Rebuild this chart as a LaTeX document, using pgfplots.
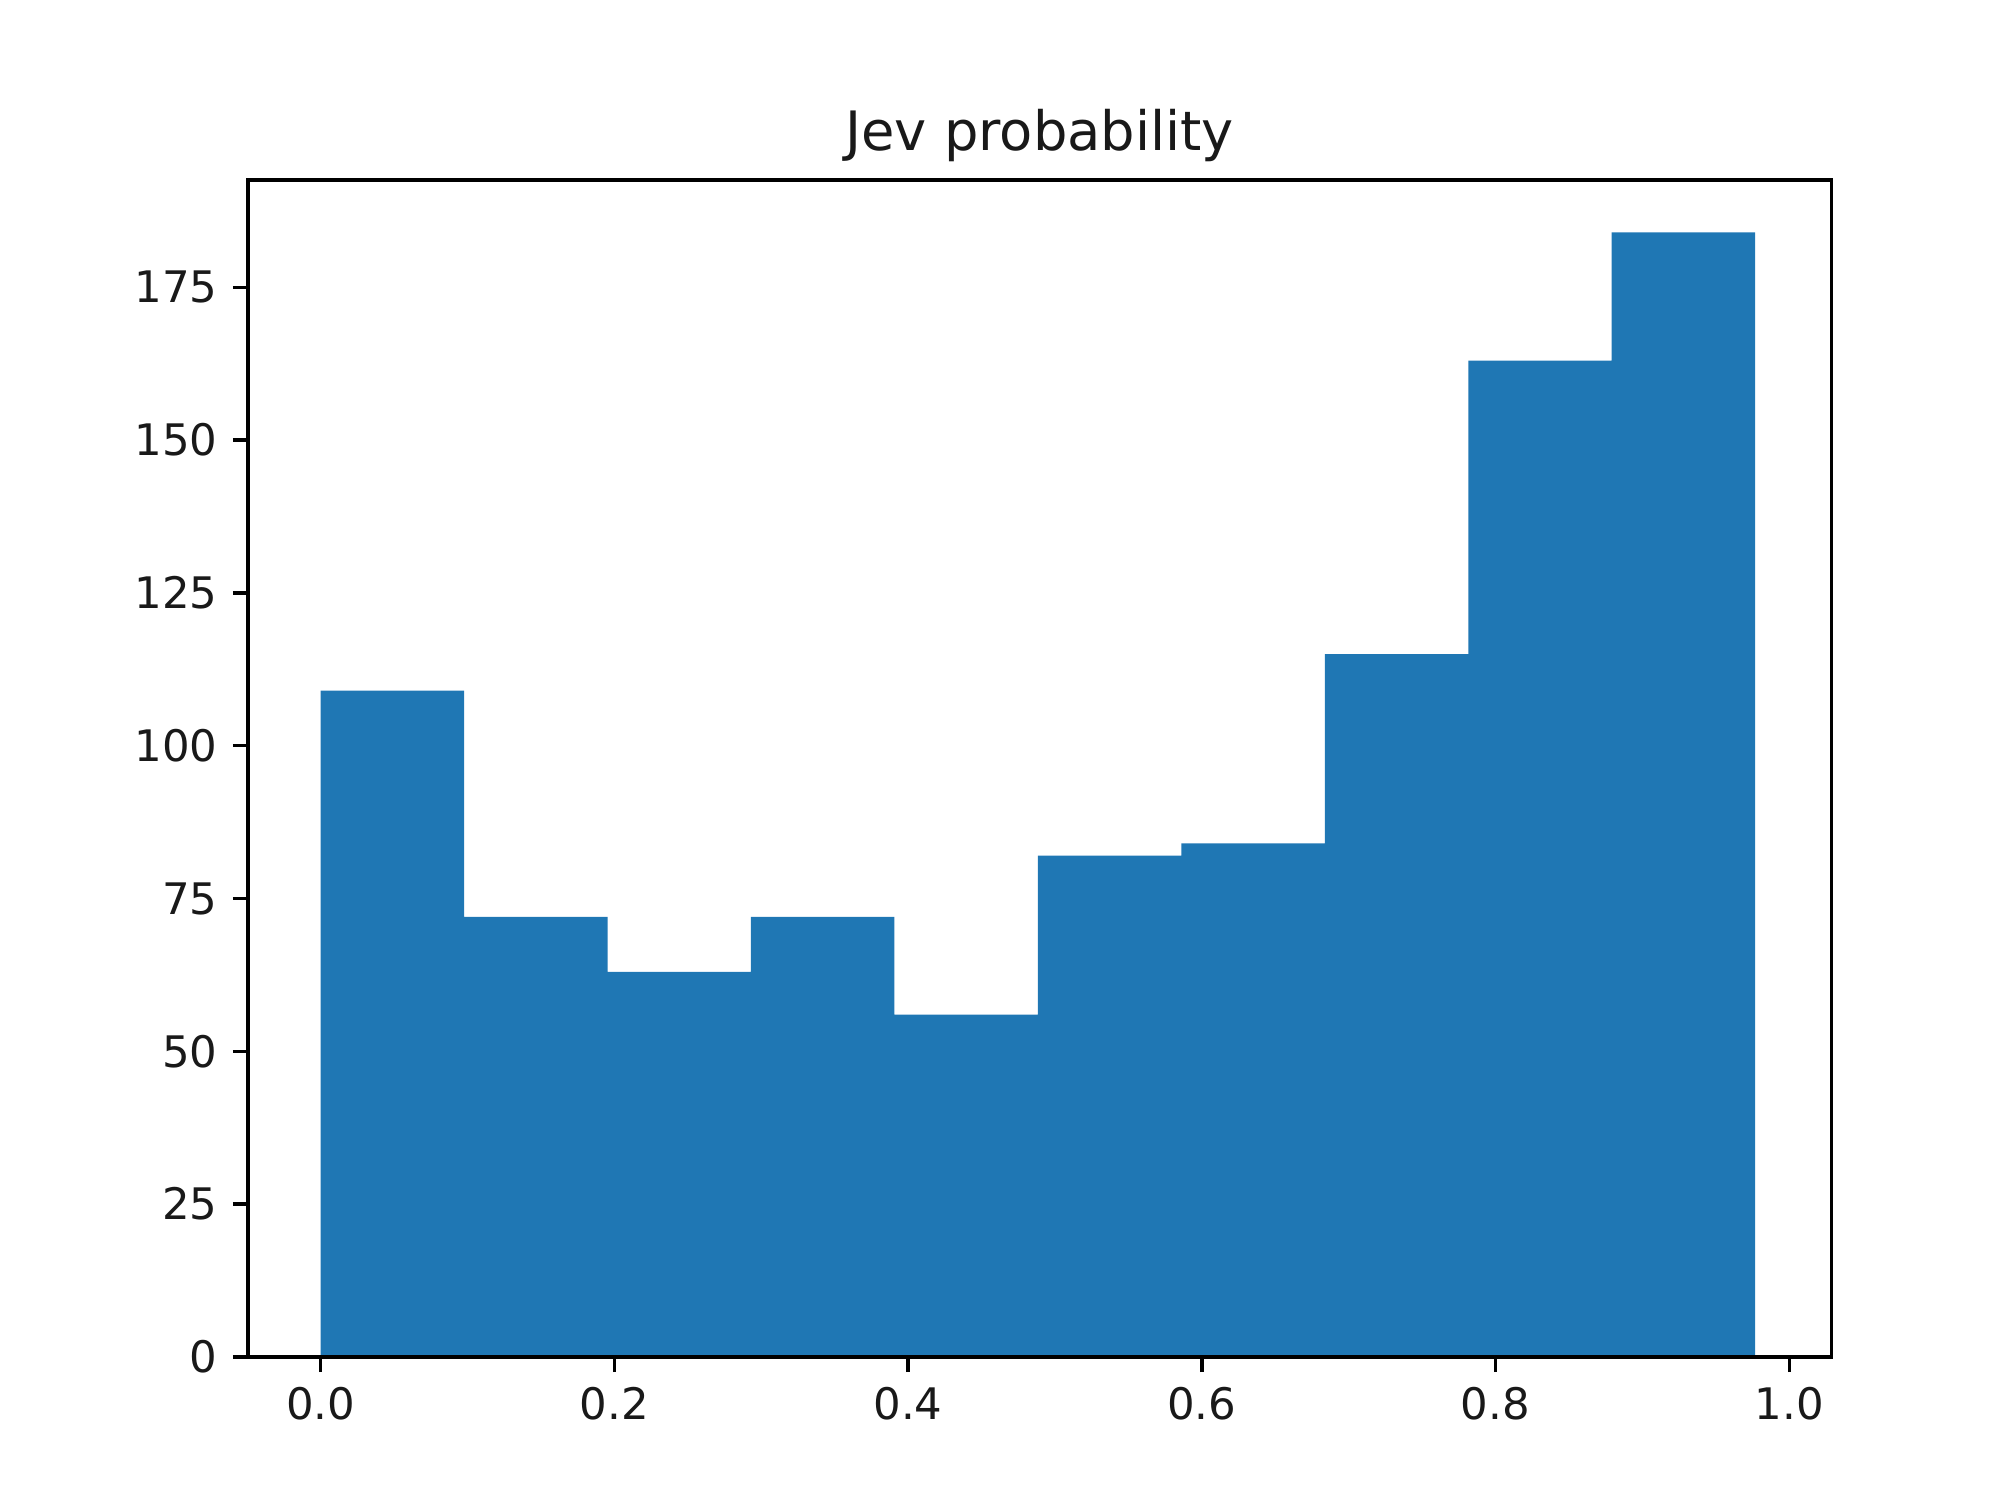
\documentclass[border=0pt]{standalone}
\usepackage{pgfplots}
\pgfplotsset{compat=1.18}
\usepackage{fontspec}
\setmainfont{DejaVu Sans}
\definecolor{mplblue}{HTML}{1F77B4}

\begin{document}
\begin{tikzpicture}
% page frame: 2002 x 1508 px at 0.2302 pt/px
\path (0,0) rectangle (460.8pt,347.1pt);
\begin{axis}[
    at={(57.1pt,34.8pt)}, anchor=south west,
    scale only axis,
    width=364.4pt, height=270.9pt,
    xmin=-0.0494, xmax=1.0286,
    ymin=0, ymax=192.6,
    axis on top,
    axis line style={line width=0.8pt},
    tick align=outside,
    tick pos=left,
    major tick length=3.5pt,
    every tick/.style={black, line width=0.8pt},
    xtick={0,0.2,0.4,0.6,0.8,1.0},
    ytick={0,25,50,75,100,125,150,175},
    xticklabel style={/pgf/number format/.cd, fixed, fixed zerofill, precision=1},
    /pgf/number format/assume math mode=true,
    tick label style={font=\fontsize{10}{12}\selectfont, text=black!90},
    title={Jev probability},
    title style={font=\fontsize{12.5}{15}\selectfont, text=black!90, yshift=-5.4pt},
]
\addplot[ybar interval, fill=mplblue, draw=none] coordinates {
    (0.00000, 109)
    (0.09768, 72)
    (0.19536, 63)
    (0.29304, 72)
    (0.39072, 56)
    (0.48840, 82)
    (0.58608, 84)
    (0.68376, 115)
    (0.78144, 163)
    (0.87912, 184)
    (0.97680, 184)
};
\end{axis}
\end{tikzpicture}
\end{document}
